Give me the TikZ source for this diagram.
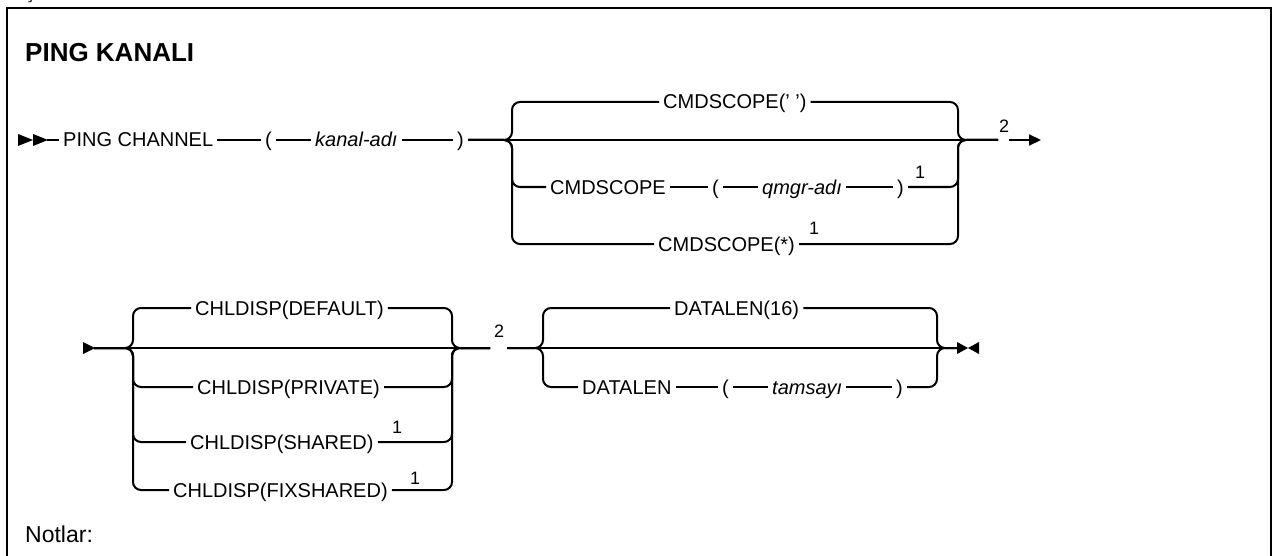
\documentclass[tikz,border=0pt]{standalone}
\usepackage{fontspec}
\setmainfont{Liberation Sans}
\usetikzlibrary{arrows.meta}
\tikzset{
  ln/.style={line width=2pt},
  rr/.style={line width=2pt, rounded corners=8pt},
  kw/.style={font=\fontsize{20}{24}\selectfont, inner xsep=4pt, inner ysep=0pt, text height=14pt, text depth=0pt, anchor=west},
  var/.style={kw, font=\fontsize{20}{24}\selectfont\itshape},
  fnote/.style={font=\fontsize{18}{20}\selectfont, inner sep=0pt},
  tipend/.style={-{Triangle[length=12pt,width=11pt]}},
}
\begin{document}
\begin{tikzpicture}[x=1pt,y=-1pt]
\useasboundingbox (0,0) rectangle (1273,556);
% frame
\draw[line width=2pt] (7,570) -- (7,8) -- (1271,8) -- (1271,570);
\node[font=\fontsize{20}{24}\selectfont, anchor=base west, inner sep=0pt] (cut) at (25,-1) {ş};
\node[font=\fontsize{26}{30}\selectfont\bfseries, anchor=base west, inner sep=0pt] (title) at (25,62) {PING KANALI};

% ---------- row 1 ----------
\fill (18,134) -- (33,140) -- (18,146) -- cycle;
\fill (33,134) -- (48,140) -- (33,146) -- cycle;
\coordinate (s1) at (47,140);
\node[kw] (ping) at (59,140) {PING CHANNEL};
\node[kw] (lp1) at (261,140) {(};
\node[var] (kan) at (311,140) {kanal-adı};
\node[kw] (rp1) at (453,140) {)};
\coordinate (j1) at (512,140);
\coordinate (k1) at (958,140);
\coordinate (g1) at (998,140);
\coordinate (g1b) at (1009,140);
\coordinate (e1) at (1041,140);
\node[kw] (cs0) at (659,102) {CMDSCOPE(' ')};
\node[kw] (cs1) at (546,187) {CMDSCOPE};
\node[kw] (lp2) at (708,187) {(};
\node[var] (qm) at (758,187) {qmgr-adı};
\node[kw] (rp2) at (893,187) {)};
\node[fnote] (f1) at (920,172) {1};
\node[kw] (cs2) at (654,244) {CMDSCOPE(*)};
\node[fnote] (f2) at (814,228) {1};
\node[fnote] (n2a) at (1004,126) {2};

\draw[ln] (s1) -- (ping);
\draw[ln] (ping) -- (lp1);
\draw[ln] (lp1) -- (kan);
\draw[ln] (kan) -- (rp1);
\draw[ln] (rp1) -- (g1);
\draw[rr] (rp1.east) -- (j1) |- (cs0.west);
\draw[rr] (cs0.east) -| (k1) -- (g1);
\draw[rr] (rp1.east) -- (j1) |- (cs1.west);
\draw[ln] (cs1) -- (lp2);
\draw[ln] (lp2) -- (qm);
\draw[ln] (qm) -- (rp2);
\draw[rr] (rp2.east) -| (k1) -- (g1);
\draw[rr] (rp1.east) -- (j1) |- (cs2.west);
\draw[rr] (cs2.east) -| (k1) -- (g1);
\draw[ln,tipend] (g1b) -- (e1);

% ---------- row 2 ----------
\fill (83,342) -- (95,348) -- (83,354) -- cycle;
\coordinate (s2) at (94,348);
\coordinate (j2) at (133,348);
\coordinate (k2) at (452,348);
\coordinate (g2) at (490,348);
\coordinate (g2b) at (507,348);
\node[fnote] (n2b) at (499,331) {2};
\node[kw] (cd) at (191,308) {CHLDISP(DEFAULT)};
\node[kw] (cp) at (193,387) {CHLDISP(PRIVATE)};
\node[kw] (csh) at (186,442) {CHLDISP(SHARED)};
\node[fnote] (f3) at (397,427) {1};
\node[kw] (cf) at (169,490) {CHLDISP(FIXSHARED)};
\node[fnote] (f4) at (415,478) {1};

\draw[ln] (s2) -- (g2);
\draw[rr] (s2) -- (j2) |- (cd.west);
\draw[rr] (cd.east) -| (k2) -- (g2);
\draw[rr] (s2) -- (j2) |- (cp.west);
\draw[rr] (cp.east) -| (k2) -- (g2);
\draw[rr] (s2) -- (j2) |- (csh.west);
\draw[rr] (csh.east) -| (k2) -- (g2);
\draw[rr] (s2) -- (j2) |- (cf.west);
\draw[rr] (cf.east) -| (k2) -- (g2);

\coordinate (j3) at (543,348);
\coordinate (k3) at (937,348);
\coordinate (e2) at (957,348);
\node[kw] (d16) at (670,308) {DATALEN(16)};
\node[kw] (dl) at (578,387) {DATALEN};
\node[kw] (lp3) at (718,387) {(};
\node[var] (ts) at (768,387) {tamsayı};
\node[kw] (rp3) at (892,387) {)};

\draw[ln] (g2b) -- (e2);
\draw[rr] (g2b) -- (j3) |- (d16.west);
\draw[rr] (d16.east) -| (k3) -- (e2);
\draw[rr] (g2b) -- (j3) |- (dl.west);
\draw[ln] (dl) -- (lp3);
\draw[ln] (lp3) -- (ts);
\draw[ln] (ts) -- (rp3);
\draw[rr] (rp3.east) -| (k3) -- (e2);
\fill (957,342) -- (968,348) -- (957,354) -- cycle;
\fill (979,342) -- (968,348) -- (979,354) -- cycle;

\node[font=\fontsize{23}{28}\selectfont, anchor=base west, inner sep=0pt] (notes) at (25,542) {Notlar:};
\end{tikzpicture}
\end{document}
